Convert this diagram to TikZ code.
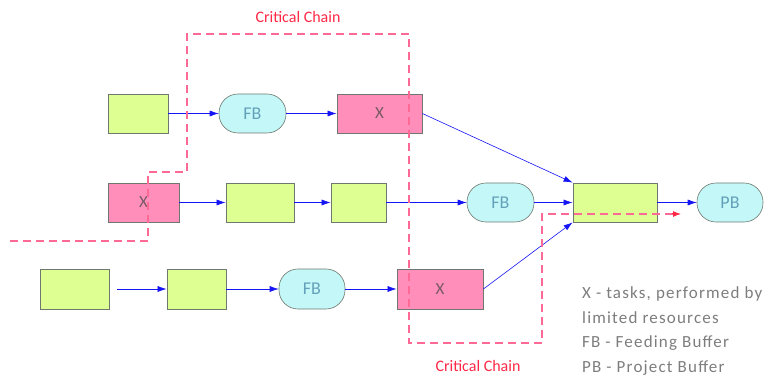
\documentclass[tikz,border=0pt]{standalone}
\usepackage{fontspec}
\setmainfont{Carlito}
\newfontfamily\legendfont[LetterSpace=7]{Carlito}
\usetikzlibrary{arrows.meta}
\definecolor{taskgreen}{RGB}{222,255,145}
\definecolor{taskpink}{RGB}{255,143,186}
\definecolor{bufcyan}{RGB}{196,248,248}
\definecolor{edgegray}{RGB}{110,120,110}
\definecolor{flowblue}{RGB}{20,20,245}
\definecolor{chainpink}{RGB}{255,105,150}
\definecolor{chainred}{RGB}{255,40,70}
\definecolor{buftext}{RGB}{100,160,185}
\definecolor{xtext}{RGB}{120,90,100}
\definecolor{legendgray}{RGB}{125,125,125}
\tikzset{
  task/.style={draw=edgegray, line width=0.8pt, fill=taskgreen, minimum height=39pt, inner sep=0pt},
  xtask/.style={task, fill=taskpink, text=xtext, font=\fontsize{17}{19}\selectfont},
  buffer/.style={draw=edgegray, line width=0.6pt, fill=bufcyan, minimum height=39pt, minimum width=67pt, rounded corners=19pt, inner sep=0pt, text=buftext, font=\fontsize{18}{20}\selectfont},
  flow/.style={draw=flowblue, line width=0.6pt, -{Latex[length=9pt,width=6pt]}},
  chain/.style={color=chainpink, draw=chainpink, line width=1.3pt, dash pattern=on 8pt off 5pt},
  chainlabel/.style={text=chainred, font=\fontsize{16}{18}\selectfont},
  legend/.style={text=legendgray, font=\legendfont\fontsize{17}{25}\selectfont, anchor=base west, inner sep=0pt}
}
\begin{document}
\begin{tikzpicture}[x=1pt,y=-1pt]
\useasboundingbox (0,0) rectangle (778,379);
% row 1
\node[task, minimum width=60pt] (a1) at (138,113.5) {};
\node[buffer] (fb1) at (252.5,113.5) {FB};
\node[xtask, minimum width=85pt] (x1) at (379.5,113.5) {X};
% row 2
\node[xtask, minimum width=71pt] (x2) at (143.5,202.5) {X};
\node[task, minimum width=68pt] (b2) at (260,202.5) {};
\node[task, minimum width=55pt] (b3) at (358.5,202.5) {};
\node[buffer] (fb2) at (500.5,202.5) {FB};
\node[task, minimum width=84pt] (f) at (615,202.5) {};
\node[buffer, minimum width=66pt] (pb) at (730,202.5) {PB};
% row 3
\node[task, minimum width=69pt, minimum height=40pt] (c1) at (74.5,289) {};
\node[task, minimum width=59pt, minimum height=40pt] (c2) at (196.5,289) {};
\node[buffer, minimum width=66pt, minimum height=40pt] (fb3) at (312,289) {FB};
\node[xtask, minimum width=86pt, minimum height=40pt] (x3) at (440,289) {X};
% flows
\draw[flow] (a1) -- (fb1);
\draw[flow] (fb1) -- (x1);
\draw[flow] (x1.east) -- (f.north west);
\draw[flow] (x2) -- (b2);
\draw[flow] (b2) -- (b3);
\draw[flow] (b3) -- (fb2);
\draw[flow] (fb2) -- (f);
\draw[flow] (f) -- (pb);
\draw[flow, shorten <=8pt] (c1) -- (c2);
\draw[flow] (c2) -- (fb3);
\draw[flow] (fb3) -- (x3);
\draw[flow] (x3.east) -- (f.south west);
% critical chain paths
\coordinate (p0) at (10,241);
\coordinate (p1) at (148,241);
\coordinate (p2) at (148,172);
\coordinate (p3) at (187,172);
\coordinate (p4) at (187,34);
\coordinate (p5) at (409,34);
\coordinate (p6) at (409,343);
\coordinate (p7) at (542,343);
\coordinate (p8) at (542,214);
\coordinate (p9) at (681,214);
\draw[chain] (p0) -- (p1) -- (p2) -- (p3) -- (p4) -- (p5) -- (p6) -- (p7) -- (p8) -- ([xshift=-8pt]p9);
\draw[color=chainred, line width=1pt, -{Latex[length=8pt,width=6pt]}] ([xshift=-9pt]p9) -- (p9);
\node[chainlabel] (cc1) at (298,17) {Critical Chain};
\node[chainlabel] (cc2) at (478,366) {Critical Chain};
% legend
\node[legend] (leg1) at (582,298) {X - tasks, performed by};
\node[legend] (leg2) at (582,323) {limited resources};
\node[legend] (leg3) at (582,347) {FB - Feeding Buffer};
\node[legend] (leg4) at (582,372) {PB - Project Buffer};
\end{tikzpicture}
\end{document}
